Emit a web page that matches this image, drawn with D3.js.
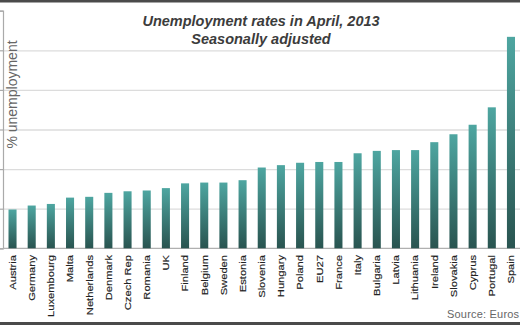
<!DOCTYPE html>
<html>
<head>
<meta charset="utf-8">
<script src="https://cdn.jsdelivr.net/npm/d3@7"></script>
<style>
  body { margin: 0; background: #fff; }
  svg { display: block; font-family: Arial, "Liberation Sans", sans-serif; }
</style>
</head>
<body>
<svg id="svg1" width="520" height="325"></svg>
<script>
var countries = ['Austria', 'Germany', 'Luxembourg', 'Malta', 'Netherlands', 'Denmark', 'Czech Rep',
    'Romania', 'UK', 'Finland', 'Belgium', 'Sweden', 'Estonia', 'Slovenia', 'Hungary', 'Poland',
    'EU27', 'France', 'Italy', 'Bulgaria', 'Latvia', 'Lithuania', 'Ireland', 'Slovakia', 'Cyprus',
    'Portugal', 'Spain'];
var rates = [4.9, 5.4, 5.6, 6.4, 6.5, 7.0, 7.2, 7.3, 7.6, 8.2, 8.3, 8.3, 8.6, 10.2, 10.5, 10.8,
    10.9, 10.9, 12.0, 12.3, 12.4, 12.4, 13.4, 14.4, 15.6, 17.8, 26.7];
var gridTicks = [5, 10, 15, 20, 25];

var width = 520, height = 325;
var svg = d3.select('#svg1');

var data = countries.map(function(c, i) { return {name: c, value: rates[i]}; });

var scaleX = d3.scaleBand().domain(countries).range([3, 520.5])
    .paddingInner(0.58).paddingOuter(0.287);
var scaleY = d3.scaleLinear().domain([0, 30]).range([248.3, 10.7]);

// gradient for the bars, dark at the foot
var grad = svg.append('defs').append('linearGradient')
    .attr('id', 'barGrad').attr('x1', 0).attr('y1', 0).attr('x2', 0).attr('y2', 1);
grad.append('stop').attr('offset', '0%').attr('stop-color', '#4ea6a1');
grad.append('stop').attr('offset', '100%').attr('stop-color', '#295450');

// frame lines top and bottom
svg.append('rect').attr('x', 0).attr('y', 0).attr('width', width).attr('height', 2.5).attr('fill', '#4a4a4a');
svg.append('rect').attr('x', 0).attr('y', 322).attr('width', width).attr('height', 3).attr('fill', '#4a4a4a');

// gridlines
svg.append('g').attr('class', 'grid')
    .attr('transform', 'translate(3,0)')
    .call(d3.axisLeft(scaleY).tickValues(gridTicks).tickSize(-(width - 3)).tickFormat(''))
    .call(function(g) {
        g.select('.domain').remove();
        g.selectAll('line').attr('stroke', '#dcdcdc').attr('stroke-width', 1.3);
    });

// y axis line with small outer ticks
svg.append('g')
    .attr('transform', 'translate(3,0)')
    .call(d3.axisLeft(scaleY).tickValues([0, 5, 10, 15, 20, 25, 30]).tickSize(4).tickFormat(''))
    .call(function(g) {
        g.selectAll('path, line').attr('stroke', '#aaaaaa').attr('stroke-width', 1.2);
    });

// baseline
svg.append('line')
    .attr('x1', 3).attr('x2', width)
    .attr('y1', scaleY(0)).attr('y2', scaleY(0))
    .attr('stroke', '#b0b0b0').attr('stroke-width', 1.2);

// bars
svg.selectAll('.bar')
    .data(data)
    .enter()
    .append('rect')
    .attr('class', 'bar')
    .attr('x', function(d) { return scaleX(d.name); })
    .attr('width', scaleX.bandwidth())
    .attr('y', function(d) { return scaleY(d.value); })
    .attr('height', function(d) { return scaleY(0) - scaleY(d.value); })
    .attr('fill', 'url(#barGrad)');

// country labels, rotated
svg.selectAll('.lbl')
    .data(countries)
    .enter()
    .append('text')
    .attr('class', 'lbl')
    .attr('transform', function(d) {
        return 'translate(' + (scaleX(d) + scaleX.bandwidth() / 2 + 3.3) + ',255) rotate(-90) scale(1.2,1)';
    })
    .attr('text-anchor', 'end')
    .attr('font-size', 9.3)
    .attr('fill', '#222')
    .attr('stroke', '#222')
    .attr('stroke-width', 0.15)
    .text(function(d) { return d; });

// y label
svg.append('text')
    .attr('transform', 'translate(17,94.5) rotate(-90)')
    .attr('text-anchor', 'middle')
    .attr('font-size', 14)
    .attr('fill', '#666')
    .text('% unemployment');

// title
var title = svg.append('text')
    .attr('text-anchor', 'middle')
    .attr('font-size', 14.5)
    .attr('font-weight', 'bold')
    .attr('font-style', 'italic')
    .attr('fill', '#3c3c3c');
title.append('tspan').attr('x', 261).attr('y', 26).text('Unemployment rates in April, 2013');
title.append('tspan').attr('x', 261).attr('y', 43.5).text('Seasonally adjusted');

// source (cut off at the right edge in the original)
svg.append('text')
    .attr('x', 447).attr('y', 317.5)
    .attr('font-size', 11)
    .attr('fill', '#666')
    .attr('letter-spacing', 0.2)
    .text('Source: Euros');
</script>
</body>
</html>
